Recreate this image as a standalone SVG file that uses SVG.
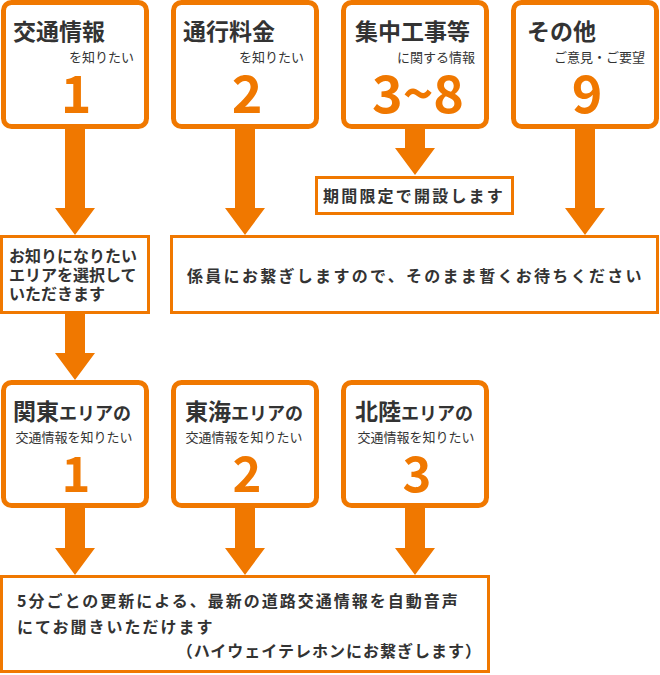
<svg xmlns="http://www.w3.org/2000/svg" width="660" height="675" viewBox="0 0 660 675">
<style>
text{font-family:"Noto Sans CJK JP","Noto Sans",sans-serif;fill:#333}
.rb{fill:#fff;stroke:#F07800;stroke-width:5}
.sb{fill:#fff;stroke:#F07800;stroke-width:3}
.t{font-size:23px;font-weight:bold}
.s{font-size:13px;text-anchor:end}
.n{font-size:52px;font-weight:bold;fill:#F07800;text-anchor:middle}
.m{font-size:16px;font-weight:bold}
.bt{font-size:23px;font-weight:bold}
.bt2{font-size:18px;font-weight:bold}
.bs{font-size:13px;text-anchor:middle}
.bn{font-size:49px;font-weight:bold;fill:#F07800;text-anchor:middle}
.arr{fill:#F07800}
</style>
<rect width="660" height="675" fill="#fff"/>
<g id="connectors">
<path class="arr" d="M65,128H85V208H95L75,235L55,208H65Z"/>
<path class="arr" d="M235,128H255V208H265L245,235L225,208H235Z"/>
<path class="arr" d="M405,128H425V148H435L415,175L395,148H405Z"/>
<path class="arr" d="M575,128H595V208H605L585,235L565,208H575Z"/>
<path class="arr" d="M65,313H85V353H95L75,380L55,353H65Z"/>
<path class="arr" d="M65,507H85V548H95L75,575L55,548H65Z"/>
<path class="arr" d="M235,507H255V548H265L245,575L225,548H235Z"/>
<path class="arr" d="M405,507H425V548H435L415,575L395,548H405Z"/>
</g>
<g id="top1">
<rect class="rb" x="3.5" y="2.5" width="143" height="124" rx="8"/>
<text class="t" x="13" y="40">交通情報</text>
<text class="s" x="134" y="62">を知りたい</text>
<text class="n" x="76" y="113">1</text>
</g>
<g id="top2">
<rect class="rb" x="173.5" y="2.5" width="143" height="124" rx="8"/>
<text class="t" x="183" y="40">通行料金</text>
<text class="s" x="304" y="62">を知りたい</text>
<text class="n" x="247" y="113">2</text>
</g>
<g id="top3">
<rect class="rb" x="343.5" y="2.5" width="143" height="124" rx="8"/>
<text class="t" x="355" y="40">集中工事等</text>
<text class="s" x="475" y="62">に関する情報</text>
<text class="n" x="418" y="113">3~8</text>
</g>
<g id="top4">
<rect class="rb" x="513.5" y="2.5" width="143" height="124" rx="8"/>
<text class="t" x="527" y="40">その他</text>
<text class="s" x="645" y="62">ご意見・ご要望</text>
<text class="n" x="587" y="113">9</text>
</g>
<g id="period">
<rect class="sb" x="316.5" y="177.5" width="196" height="36"/>
<text class="m" x="323" y="202" letter-spacing="2.2">期間限定で開設します</text>
</g>
<g id="area">
<rect class="sb" x="1.5" y="236.5" width="147" height="76"/>
<text class="m" x="9" y="262">お知りになりたい</text>
<text class="m" x="9" y="281">エリアを選択して</text>
<text class="m" x="9" y="300">いただきます</text>
</g>
<g id="operator">
<rect class="sb" x="171.5" y="236.5" width="486" height="76"/>
<text class="m" x="187" y="282" letter-spacing="2.3">係員にお繋ぎしますので、そのまま暫くお待ちください</text>
</g>
<g id="kanto">
<rect class="rb" x="3.5" y="382.5" width="143" height="123" rx="8"/>
<text x="13" y="420"><tspan class="bt">関東</tspan><tspan class="bt2">エリアの</tspan></text>
<text class="bs" x="74" y="442">交通情報を知りたい</text>
<text class="bn" x="76" y="492">1</text>
</g>
<g id="tokai">
<rect class="rb" x="173.5" y="382.5" width="143" height="123" rx="8"/>
<text x="185" y="420"><tspan class="bt">東海</tspan><tspan class="bt2">エリアの</tspan></text>
<text class="bs" x="244" y="442">交通情報を知りたい</text>
<text class="bn" x="247" y="492">2</text>
</g>
<g id="hokuriku">
<rect class="rb" x="343.5" y="382.5" width="143" height="123" rx="8"/>
<text x="355" y="420"><tspan class="bt">北陸</tspan><tspan class="bt2">エリアの</tspan></text>
<text class="bs" x="416" y="442">交通情報を知りたい</text>
<text class="bn" x="417" y="492">3</text>
</g>
<g id="highway">
<rect class="sb" x="1.5" y="576.5" width="487" height="95"/>
<text class="m" x="17" y="607" letter-spacing="2">5分ごとの更新による、最新の道路交通情報を自動音声</text>
<text class="m" x="17" y="633" letter-spacing="2">にてお聞きいただけます</text>
<text class="m" x="482" y="657" letter-spacing="1" text-anchor="end">（ハイウェイテレホンにお繋ぎします）</text>
</g>
</svg>
